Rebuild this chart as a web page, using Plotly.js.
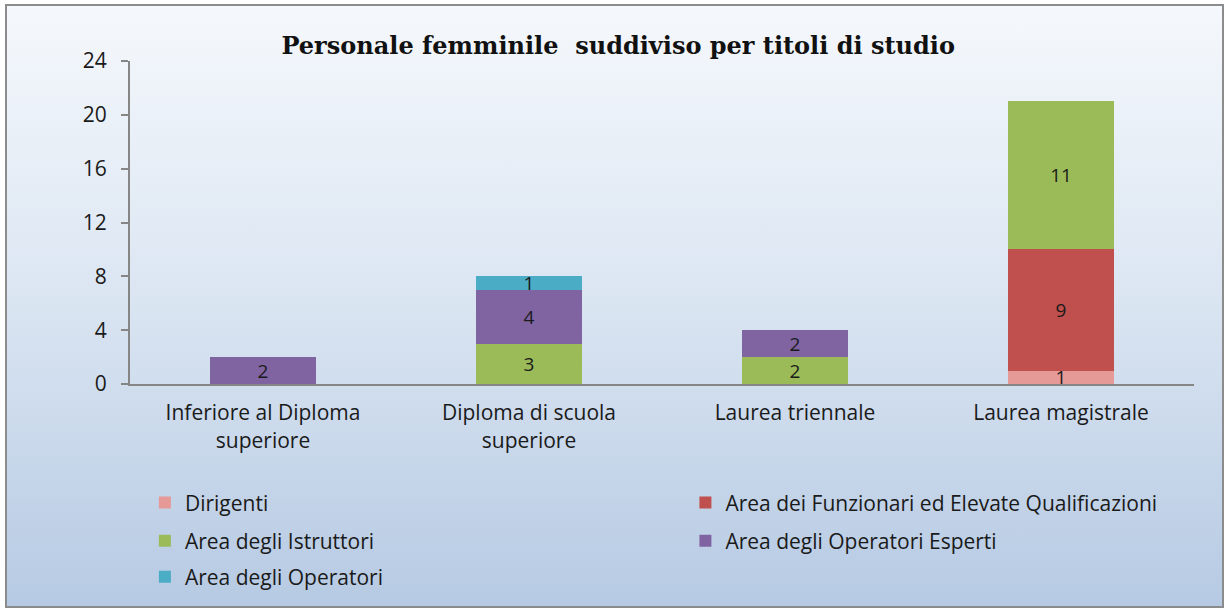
<!DOCTYPE html>
<html>
<head>
<meta charset="utf-8">
<script src="https://cdn.plot.ly/plotly-3.0.1.min.js"></script>
<style>
  body{margin:0;background:#fff;}
  #wrap{position:absolute;left:5px;top:4px;width:1215px;height:600px;border:2px solid #8c8c8c;
        background:linear-gradient(to bottom,#f5f8fc 0%,#dde7f3 45%,#b6cae3 100%);}
  #plot{position:absolute;left:-7px;top:-6px;width:1229px;height:610px;}
</style>
</head>
<body>
<div id="wrap"><div id="plot"></div></div>
<script>
/*categories and series*/
var categorie=['Inferiore al Diploma<br>superiore','Diploma di scuola<br>superiore','Laurea triennale','Laurea magistrale'];
var dirigenti=[0,0,0,1];
var funzionari=[0,0,0,9];
var istruttori=[0,3,2,11];
var esperti=[2,4,2,0];
var operatori=[0,1,0,0];
var yTicks=[0,4,8,12,16,20,24];

var FONT='Open Sans, Lato, sans-serif';

function serie(nome,vals,colore,leg){
    var y=[],t=[];
    for(var i=0;i<vals.length;i++){
        y[i]=vals[i]==0?null:vals[i];
        t[i]=vals[i]==0?'':String(vals[i]);
    }
    return {
        x:categorie,
        y:y,
        text:t,
        type:'bar',
        name:nome,
        legend:leg,
        marker:{color:colore},
        textposition:'inside',
        insidetextanchor:'middle',
        constraintext:'none',
        textangle:0,
        textfont:{family:FONT,size:19,color:'#1a1a1a'},
        hoverinfo:'name+y'
    };
}

var data=[
    serie('Dirigenti',dirigenti,'#e69a98','legend'),
    serie('Area dei Funzionari ed Elevate Qualificazioni',funzionari,'#c0504d','legend2'),
    serie('Area degli Istruttori',istruttori,'#9bbb59','legend3'),
    serie('Area degli Operatori Esperti',esperti,'#8064a2','legend4'),
    serie('Area degli Operatori',operatori,'#4bacc6','legend5')
];

/*one legend box per entry, two columns*/
function legenda(x,y){
    return {orientation:'h',x:x,xanchor:'left',y:y,yanchor:'middle',
        font:{family:FONT,size:21,color:'#1a1a1a'},bgcolor:'rgba(0,0,0,0)'};
}

var layout={
    width:1229,height:610,
    paper_bgcolor:'rgba(0,0,0,0)',
    plot_bgcolor:'rgba(0,0,0,0)',
    margin:{l:130,r:35,t:61,b:226,pad:0},
    barmode:'stack',
    bargap:0.6,
    showlegend:true,
    title:{text:'<b>Personale femminile  suddiviso per titoli di studio</b>',
        font:{family:'DejaVu Serif, Liberation Serif, serif',size:24,color:'#111'},
        x:0.503,xanchor:'center',y:0.926,yanchor:'middle'},
    xaxis:{
        type:'category',
        showline:true,linecolor:'#868686',linewidth:2,
        ticks:'',showgrid:false,
        tickfont:{family:FONT,size:21,color:'#1a1a1a'},
        ticklabelstandoff:9
    },
    yaxis:{
        range:[0,24],
        tickvals:yTicks,
        showline:true,linecolor:'#868686',linewidth:2,
        ticks:'outside',ticklen:7,tickcolor:'#868686',tickwidth:2,
        showgrid:false,zeroline:false,
        tickfont:{family:FONT,size:21,color:'#1a1a1a'},
        ticklabelstandoff:10
    },
    legend:legenda(0.014,-0.368),
    legend2:legenda(0.522,-0.368),
    legend3:legenda(0.014,-0.486),
    legend4:legenda(0.522,-0.486),
    legend5:legenda(0.014,-0.598)
};

Plotly.newPlot('plot',data,layout,{displayModeBar:false});
</script>
</body>
</html>
